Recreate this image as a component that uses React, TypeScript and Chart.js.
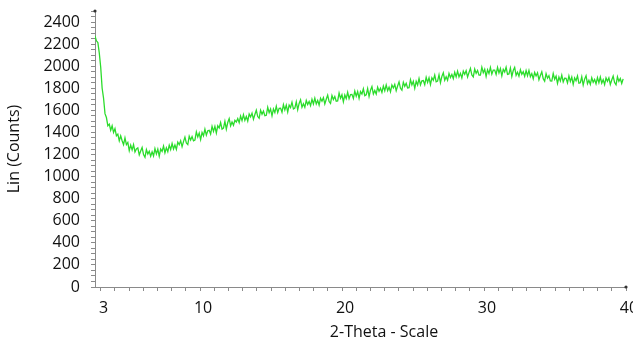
import React, { useEffect, useRef } from "react";
import { Chart, registerables } from "chart.js";

Chart.register(...registerables);

// 2-Theta scan range (degrees)
const X_START = 2.6;
const X_END = 39.8;

// Intensity readings (Lin counts), evenly spaced from X_START to X_END
const COUNTS: number[] = [
  2275, 2230, 2215, 2120, 1990, 1800, 1710, 1570, 1535, 1460,
  1475, 1420, 1460, 1400, 1435, 1370, 1385, 1325, 1370, 1325,
  1290, 1350, 1290, 1310, 1235, 1285, 1242, 1290, 1223, 1250,
  1260, 1196, 1232, 1263, 1199, 1175, 1245, 1205, 1230, 1185,
  1225, 1187, 1254, 1206, 1248, 1185, 1249, 1228, 1277, 1216,
  1260, 1225, 1285, 1245, 1300, 1250, 1286, 1247, 1313, 1289,
  1325, 1271, 1317, 1358, 1304, 1290, 1366, 1332, 1363, 1324,
  1330, 1405, 1360, 1395, 1335, 1400, 1370, 1430, 1375, 1415,
  1420, 1385, 1455, 1410, 1455, 1395, 1460, 1440, 1490, 1430,
  1440, 1500, 1430, 1490, 1525, 1460, 1495, 1465, 1510, 1495,
  1525, 1489, 1548, 1507, 1561, 1510, 1544, 1503, 1567, 1541,
  1575, 1519, 1562, 1601, 1544, 1528, 1601, 1565, 1593, 1552,
  1555, 1628, 1580, 1613, 1550, 1613, 1580, 1638, 1580, 1618,
  1620, 1583, 1651, 1604, 1647, 1585, 1648, 1626, 1674, 1612,
  1620, 1678, 1605, 1663, 1695, 1628, 1660, 1628, 1690, 1653,
  1680, 1643, 1700, 1658, 1710, 1658, 1690, 1648, 1710, 1683,
  1715, 1658, 1700, 1738, 1680, 1663, 1735, 1698, 1725, 1683,
  1685, 1757, 1709, 1741, 1678, 1740, 1707, 1764, 1706, 1743,
  1745, 1708, 1775, 1728, 1770, 1708, 1770, 1748, 1795, 1733,
  1740, 1798, 1725, 1783, 1815, 1748, 1780, 1748, 1810, 1773,
  1800, 1763, 1820, 1778, 1830, 1778, 1810, 1768, 1830, 1803,
  1835, 1778, 1820, 1858, 1800, 1783, 1855, 1818, 1845, 1803,
  1805, 1878, 1830, 1863, 1800, 1863, 1830, 1888, 1830, 1868,
  1870, 1833, 1900, 1853, 1895, 1833, 1895, 1873, 1920, 1858,
  1865, 1923, 1850, 1908, 1940, 1873, 1905, 1873, 1935, 1898,
  1925, 1888, 1945, 1903, 1955, 1903, 1935, 1893, 1955, 1927,
  1960, 1902, 1943, 1980, 1921, 1903, 1974, 1936, 1962, 1919,
  1920, 1991, 1941, 1972, 1907, 1968, 1933, 1989, 1929, 1965,
  1965, 1925, 1989, 1939, 1978, 1913, 1972, 1947, 1991, 1926,
  1930, 1984, 1907, 1961, 1989, 1918, 1946, 1910, 1968, 1927,
  1950, 1908, 1961, 1914, 1962, 1905, 1933, 1886, 1944, 1912,
  1940, 1878, 1916, 1949, 1887, 1865, 1933, 1891, 1914, 1867,
  1865, 1933, 1882, 1910, 1844, 1902, 1866, 1919, 1858, 1891,
  1890, 1849, 1913, 1862, 1901, 1835, 1894, 1868, 1912, 1846,
  1850, 1904, 1829, 1883, 1913, 1842, 1872, 1836, 1896, 1855,
  1880, 1840, 1896, 1851, 1902, 1847, 1878, 1833, 1894, 1864,
  1895, 1835, 1875, 1911, 1852, 1832, 1904, 1863, 1889, 1844,
  1885,
];

// Axis ranges and ticks
const X_AXIS_MIN = 2.6;
const X_AXIS_MAX = 40;
const X_MINOR_FROM = 3;
const X_MINOR_TO = 40;
const X_LABELS = [3, 10, 20, 30, 40];
const Y_MIN = 0;
const Y_MAX = 2500;
const Y_MINOR_STEP = 50;
const Y_LABEL_STEP = 200;
const Y_LABEL_MAX = 2400;

const X_TITLE = "2-Theta - Scale";
const Y_TITLE = "Lin (Counts)";

const FONT = "'Open Sans', 'DejaVu Sans', sans-serif";
const AXIS_COLOR = "#8a8a8a";
const TEXT_COLOR = "#111111";
const LINE_COLOR = "#2bdc2b";

const axisDots = {
  id: "axisDots",
  afterDraw(chart: any) {
    const { ctx, chartArea } = chart;
    ctx.save();
    ctx.fillStyle = "#333";
    ctx.beginPath();
    ctx.arc(chartArea.left, chartArea.top, 1.6, 0, Math.PI * 2);
    ctx.fill();
    ctx.beginPath();
    ctx.arc(chartArea.right, chartArea.bottom, 1.6, 0, Math.PI * 2);
    ctx.fill();
    ctx.restore();
  },
};

export default function App() {
  const ref = useRef<HTMLCanvasElement | null>(null);

  useEffect(() => {
    if (!ref.current) return;
    const n = COUNTS.length;
    const step = (X_END - X_START) / (n - 1);
    const points = COUNTS.map((y, i) => ({ x: X_START + i * step, y }));

    const chart = new Chart(ref.current, {
      type: "line",
      data: {
        datasets: [
          {
            data: points,
            borderColor: LINE_COLOR,
            borderWidth: 1.3,
            pointRadius: 0,
            tension: 0,
            fill: false,
          },
        ],
      },
      plugins: [axisDots],
      options: {
        animation: false,
        responsive: false,
        devicePixelRatio: 1,
        layout: { padding: { left: 0, right: 7, top: 11, bottom: 0 } },
        plugins: {
          legend: { display: false },
          tooltip: { enabled: false },
        },
        scales: {
          x: {
            type: "linear",
            min: X_AXIS_MIN,
            max: X_AXIS_MAX,
            afterBuildTicks: (scale: any) => {
              const t = [];
              for (let v = X_MINOR_FROM; v <= X_MINOR_TO; v++) t.push({ value: v });
              scale.ticks = t;
            },
            afterFit: (scale: any) => {
              scale.height = 60;
              scale.paddingLeft = 0;
              scale.paddingRight = 0;
            },
            grid: {
              display: true,
              drawOnChartArea: false,
              drawTicks: true,
              tickLength: 4,
              color: AXIS_COLOR,
            },
            border: { display: true, color: AXIS_COLOR, width: 1 },
            ticks: {
              autoSkip: false,
              maxRotation: 0,
              minRotation: 0,
              padding: 8,
              labelOffset: 3,
              color: TEXT_COLOR,
              font: { family: FONT, size: 16 },
              callback: (v: any) => (X_LABELS.includes(Number(v)) ? String(v) : ""),
            },
          },
          y: {
            type: "linear",
            min: Y_MIN,
            max: Y_MAX,
            afterBuildTicks: (scale: any) => {
              const t = [];
              for (let v = Y_MIN; v <= Y_MAX; v += Y_MINOR_STEP) t.push({ value: v });
              scale.ticks = t;
            },
            afterFit: (scale: any) => {
              scale.width = 95;
              scale.paddingTop = 0;
              scale.paddingBottom = 0;
            },
            grid: {
              display: true,
              drawOnChartArea: false,
              drawTicks: true,
              tickLength: 4,
              color: AXIS_COLOR,
            },
            border: { display: true, color: AXIS_COLOR, width: 1 },
            title: {
              display: true,
              text: Y_TITLE,
              color: TEXT_COLOR,
              font: { family: FONT, size: 16 },
              padding: { top: 5, bottom: 0 },
            },
            ticks: {
              autoSkip: false,
              padding: 11,
              color: TEXT_COLOR,
              font: { family: FONT, size: 16 },
              callback: (v: any) => {
                const n = Number(v);
                return n % Y_LABEL_STEP === 0 && n <= Y_LABEL_MAX ? String(n) : "";
              },
            },
          },
        },
      },
    } as any);

    return () => chart.destroy();
  }, []);

  return (
    <div style={{ position: "absolute", left: 0, top: 0, width: 633, height: 347, background: "#fff" }}>
      <canvas ref={ref} width={633} height={347} style={{ display: "block" }} />
      <div
        style={{
          position: "absolute",
          left: 284,
          top: 321,
          width: 200,
          textAlign: "center",
          fontFamily: FONT,
          fontSize: 16,
          lineHeight: "20px",
          color: TEXT_COLOR,
        }}
      >
        {X_TITLE}
      </div>
    </div>
  );
}
